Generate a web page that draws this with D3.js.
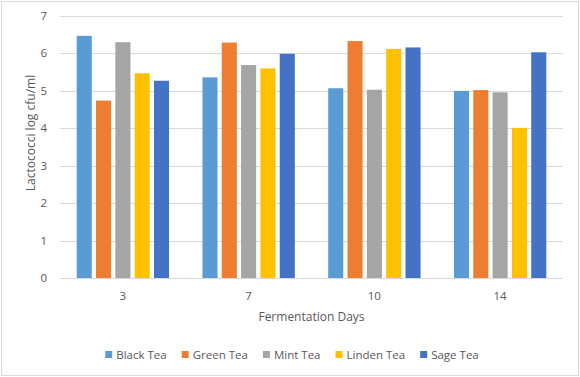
<!DOCTYPE html>
<html>
<head>
<meta charset="utf-8">
<script src="https://cdn.jsdelivr.net/npm/d3@7.8.5/dist/d3.min.js"></script>
<style>
  body { margin: 0; background: #fff; }
  svg { display: block; font-family: "Open Sans", sans-serif; }
</style>
</head>
<body>
<div id="chart"></div>
<script>
const days = ['3', '7', '10', '14'];
const teas = ['Black Tea', 'Green Tea', 'Mint Tea', 'Linden Tea', 'Sage Tea'];
const blackTea = [6.47, 5.36, 5.07, 5.00];
const greenTea = [4.74, 6.29, 6.33, 5.02];
const mintTea = [6.30, 5.69, 5.03, 4.96];
const lindenTea = [5.47, 5.60, 6.12, 4.01];
const sageTea = [5.27, 5.99, 6.16, 6.03];
const yTicks = [0, 1, 2, 3, 4, 5, 6, 7];
const colors = ['#5B9BD5', '#ED7D31', '#A5A5A5', '#FFC000', '#4472C4'];

const seriesValues = [blackTea, greenTea, mintTea, lindenTea, sageTea];
const W = 580, H = 377;
const margin = { top: 16, right: 17, bottom: 99, left: 60 };
const innerW = W - margin.left - margin.right;
const innerH = H - margin.top - margin.bottom;

const svg = d3.select('#chart').append('svg')
    .attr('width', W)
    .attr('height', H);

// Outer border
svg.append('rect')
    .attr('x', 1.5).attr('y', 1.5)
    .attr('width', W - 3).attr('height', H - 3)
    .style('fill', '#fff')
    .style('stroke', '#d9d9d9')
    .style('stroke-width', '1px');

const g = svg.append('g')
    .attr('transform', `translate(${margin.left},${margin.top})`);

const x0 = d3.scaleBand().domain(days).range([0, innerW]).paddingInner(0).paddingOuter(0);
const x1 = d3.scaleBand().domain(teas).range([16.7, x0.bandwidth() - 16.7]).paddingInner(0.22).paddingOuter(0);
const y = d3.scaleLinear().domain([0, 7]).range([innerH, 0]);

// Gridlines
g.selectAll('.grid')
    .data(yTicks)
    .enter()
    .append('line')
    .attr('class', 'grid')
    .attr('x1', 0).attr('x2', innerW)
    .attr('y1', d => Math.round(y(d)) + 0.5)
    .attr('y2', d => Math.round(y(d)) + 0.5)
    .style('stroke', '#d9d9d9')
    .style('stroke-width', '1px');

// Y labels
g.selectAll('.ylab')
    .data(yTicks)
    .enter()
    .append('text')
    .attr('x', -13)
    .attr('y', d => y(d))
    .attr('dy', '0.35em')
    .attr('text-anchor', 'end')
    .style('font-size', '11.5px')
    .style('fill', '#595959')
    .text(d => d);

// Bars
const groups = g.selectAll('.day')
    .data(days)
    .enter()
    .append('g')
    .attr('class', 'day')
    .attr('transform', d => `translate(${x0(d)},0)`);

groups.selectAll('rect')
    .data((d, i) => teas.map((t, j) => ({ tea: t, value: seriesValues[j][i], color: colors[j] })))
    .enter()
    .append('rect')
    .attr('x', d => x1(d.tea))
    .attr('width', x1.bandwidth())
    .attr('y', d => y(d.value))
    .attr('height', d => innerH - y(d.value))
    .style('fill', d => d.color);

// X labels
g.selectAll('.xlab')
    .data(days)
    .enter()
    .append('text')
    .attr('x', d => x0(d) + x0.bandwidth() / 2)
    .attr('y', innerH + 22)
    .attr('text-anchor', 'middle')
    .style('font-size', '11.5px')
    .style('fill', '#595959')
    .text(d => d);

// Axis titles
svg.append('text')
    .attr('x', margin.left + innerW / 2)
    .attr('y', 321)
    .attr('text-anchor', 'middle')
    .style('font-size', '12px')
    .style('fill', '#595959')
    .text('Fermentation Days');

svg.append('text')
    .attr('transform', 'translate(35,133) rotate(-90)')
    .attr('text-anchor', 'middle')
    .style('font-size', '12px')
    .style('fill', '#595959')
    .text('Lactococci log cfu/ml');

// Legend
const legend = svg.append('g');
let lx = 0;
teas.forEach((t, i) => {
    const item = legend.append('g').attr('transform', `translate(${lx},0)`);
    item.append('rect')
        .attr('x', 0).attr('y', -4)
        .attr('width', 7).attr('height', 7)
        .style('fill', colors[i]);
    const txt = item.append('text')
        .attr('x', 11)
        .attr('y', 0)
        .attr('dy', '0.35em')
        .style('font-size', '11.5px')
        .style('fill', '#595959')
        .text(t);
    lx += 11 + txt.node().getComputedTextLength() + 15;
});
const legendW = lx - 15;
legend.attr('transform', `translate(${(W - legendW) / 2 + 2},355)`);
</script>
</body>
</html>
